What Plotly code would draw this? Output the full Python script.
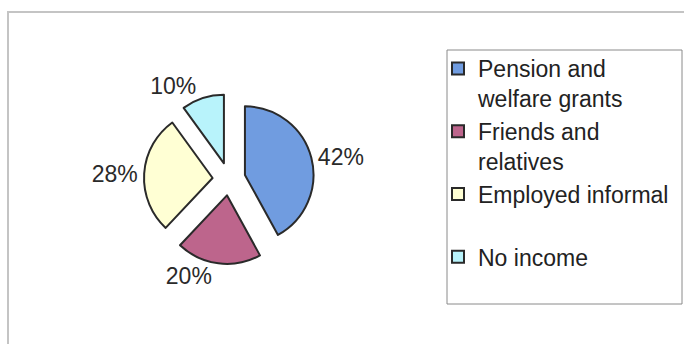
import plotly.graph_objects as go

labels = ["Pension and<br>welfare grants", "Friends and<br>relatives", "Employed informal<br>&nbsp;", "No income"]
values = [42, 20, 28, 10]
colors = ["#709ce0", "#bd658c", "#ffffd4", "#b8f3fb"]

W, H = 684, 344
FONT = "Liberation Sans, Arial, sans-serif"

fig = go.Figure(go.Pie(
    labels=labels,
    values=values,
    sort=False,
    direction="clockwise",
    rotation=0,
    pull=[0.24, 0.24, 0.24, 0.24],
    marker=dict(colors=colors, line=dict(color="#2a2a2a", width=2)),
    textinfo="percent",
    textposition="outside",
    textfont=dict(family=FONT, size=23, color="#2a2a2a"),
    domain=dict(x=[144 / W, 314 / W], y=[1 - 264 / H, 1 - 94 / H]),
    hoverinfo="label+percent",
))

fig.update_layout(
    width=W, height=H,
    margin=dict(l=0, r=0, t=0, b=0),
    paper_bgcolor="white",
    plot_bgcolor="white",
    showlegend=True,
    legend=dict(
        x=438 / W, xanchor="left",
        y=1 - 47 / H, yanchor="top",
        valign="top",
        borderwidth=0,
        bgcolor="rgba(0,0,0,0)",
        font=dict(family=FONT, size=23, color="#222222"),
        tracegroupgap=0,
    ),
    shapes=[
        # outer chart frame (top and left edges visible in the scan)
        dict(type="line", xref="paper", yref="paper",
             x0=7 / W, x1=1, y0=1 - 12 / H, y1=1 - 12 / H,
             line=dict(color="#c4c4c4", width=2)),
        dict(type="line", xref="paper", yref="paper",
             x0=8 / W, x1=8 / W, y0=0, y1=1 - 12 / H,
             line=dict(color="#c4c4c4", width=2)),
        # legend frame
        dict(type="rect", xref="paper", yref="paper",
             x0=447 / W, x1=682 / W, y0=1 - 304 / H, y1=1 - 50 / H,
             line=dict(color="#8a8a8a", width=1), layer="below"),
    ],
)

fig.write_html("out.html")
